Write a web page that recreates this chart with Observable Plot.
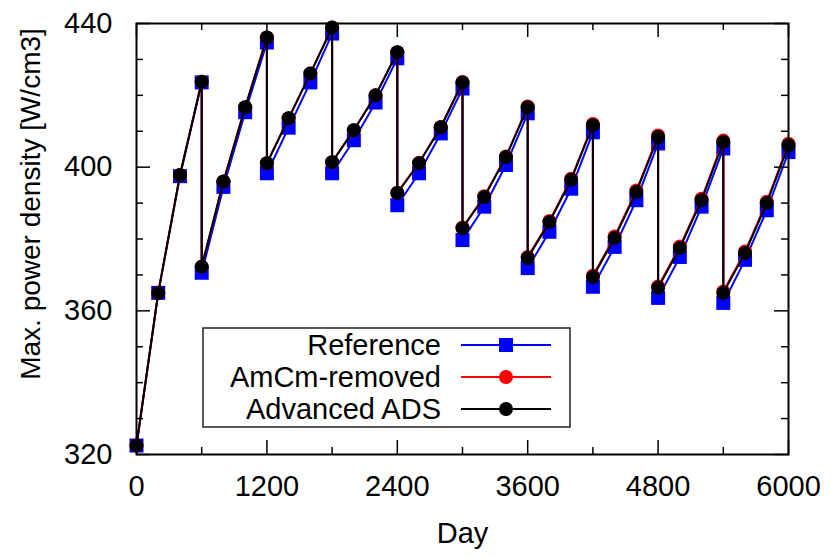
<!DOCTYPE html>
<html><head><meta charset="utf-8">
<script src="https://cdn.jsdelivr.net/npm/d3@7"></script>
<script src="https://cdn.jsdelivr.net/npm/@observablehq/plot@0.6"></script>
<style>body{margin:0;background:#fff} svg{display:block}</style>
</head><body><div id="chart"></div>
<script>
const days = [0,200,400,600,600,800,1000,1200,1200,1400,1600,1800,1800,2000,2200,2400,2400,2600,2800,3000,3000,3200,3400,3600,3600,3800,4000,4200,4200,4400,4600,4800,4800,5000,5200,5400,5400,5600,5800,6000];
const reference = [322.5,365,397.5,423.6,370.6,394.5,415.3,434.7,398.3,411,423.6,437.2,398.3,407.5,418,430.3,389.4,398.3,409.4,421.9,379.7,389,400.6,415,371.9,382,394,409.7,366.7,377.8,390.8,406.6,363.6,375,389,405.2,362.2,374.2,388,404.2];
const amcmRemoved = [322.5,365,397.8,423.8,372.3,396,416.7,436.1,401.1,413.6,426.1,438.9,401.4,410.3,420,432,392.9,401.2,411.2,423.7,383.2,391.9,403,416.9,375,385,396.8,412,369.8,380.7,393.5,408.8,366.8,377.9,391.2,407.4,365.4,376.5,390.4,406.5];
const advancedADS = [322.5,365,397.8,423.8,372.3,396,416.7,436.1,401.1,413.6,426.1,438.9,401.4,410.3,420,432,392.8,401.1,411.1,423.6,383,391.7,402.8,416.7,374.7,384.7,396.5,411.7,369.4,380.3,393.1,408.4,366.4,377.5,390.8,407,365,376.1,390,406.1];
const seriesNames = ["Reference","AmCm-removed","Advanced ADS"];
const seriesColors = ["#0000ff","#ff0000","#000000"];
const xTicks = [0,1200,2400,3600,4800,6000];
const xMinorTicks = [600,1800,3000,4200,5400];
const yTicks = [320,360,400,440];
const yMinorTicks = [330,340,350,370,380,390,410,420,430];
const xLabel = "Day";
const yLabel = "Max. power density [W/cm3]";

const W = 831, H = 557, mL = 136, mR = 43, mT = 23, mB = 103;
const innerW = W - mL - mR, innerH = H - mT - mB;
const rows = vals => days.map((d, i) => ({day: d, value: vals[i]}));
const font = "'Liberation Sans', Arial, Helvetica, sans-serif";
const fs = 29;

const seriesMarks = (vals, color, symbol, r) => [
  Plot.line(rows(vals), {x: "day", y: "value", stroke: color, strokeWidth: 2}),
  Plot.dot(rows(vals), {x: "day", y: "value", fill: color, stroke: "none", symbol, r})
];

const chart = Plot.plot({
  width: W, height: H,
  marginLeft: mL, marginRight: mR, marginTop: mT, marginBottom: mB,
  style: {fontFamily: font, color: "#000", background: "#fff"},
  x: {domain: [0, 6000]},
  y: {domain: [320, 440]},
  marks: [
    ...seriesMarks(reference, seriesColors[0], "square", 7.9),
    ...seriesMarks(amcmRemoved, seriesColors[1], "circle", 7),
    ...seriesMarks(advancedADS, seriesColors[2], "circle", 7),
    // inward ticks, all four sides
    Plot.tickX(xTicks, {x: d => d, insetTop: innerH - 14, stroke: "#000", strokeWidth: 1.5}),
    Plot.tickX(xTicks, {x: d => d, insetBottom: innerH - 14, stroke: "#000", strokeWidth: 1.5}),
    Plot.tickX(xMinorTicks, {x: d => d, insetTop: innerH - 7, stroke: "#000", strokeWidth: 1.5}),
    Plot.tickX(xMinorTicks, {x: d => d, insetBottom: innerH - 7, stroke: "#000", strokeWidth: 1.5}),
    Plot.tickY(yTicks, {y: d => d, insetRight: innerW - 14, stroke: "#000", strokeWidth: 1.5}),
    Plot.tickY(yTicks, {y: d => d, insetLeft: innerW - 14, stroke: "#000", strokeWidth: 1.5}),
    Plot.tickY(yMinorTicks, {y: d => d, insetRight: innerW - 7, stroke: "#000", strokeWidth: 1.5}),
    Plot.tickY(yMinorTicks, {y: d => d, insetLeft: innerW - 7, stroke: "#000", strokeWidth: 1.5}),
    Plot.frame({stroke: "#000", strokeWidth: 2}),
    Plot.axisX(xTicks, {anchor: "bottom", tickSize: 0, tickPadding: 21, fontSize: fs, tickFormat: d => String(d), label: null}),
    Plot.axisY(yTicks, {anchor: "left", tickSize: 0, tickPadding: 24, fontSize: fs, tickFormat: d => String(d), label: null}),
    Plot.text([xLabel], {frameAnchor: "bottom", dy: 79, fontSize: fs, lineAnchor: "middle", text: d => d})
  ]
});
document.getElementById("chart").append(chart);

const svg = d3.select(chart);
// y-axis title (rotated)
svg.append("text")
  .attr("transform", "translate(30,204) rotate(-90)")
  .attr("text-anchor", "middle").attr("dy", "0.35em")
  .attr("font-family", font).attr("font-size", 28).attr("fill", "#000")
  .text(yLabel);

// legend (gnuplot-style key box)
const lg = svg.append("g").attr("font-family", font).attr("font-size", fs);
lg.append("rect").attr("x", 203).attr("y", 328).attr("width", 367).attr("height", 99)
  .attr("fill", "#fff").attr("stroke", "#222").attr("stroke-width", 1.5);
seriesNames.forEach((name, i) => {
  const cy = 345 + i * 32;
  lg.append("text").attr("x", 441).attr("y", cy).attr("dy", "0.35em")
    .attr("text-anchor", "end").attr("fill", "#000").text(name);
  lg.append("line").attr("x1", 461).attr("x2", 551).attr("y1", cy).attr("y2", cy)
    .attr("stroke", seriesColors[i]).attr("stroke-width", 2);
  if (i === 0) {
    lg.append("rect").attr("x", 506 - 7).attr("y", cy - 7).attr("width", 14).attr("height", 14)
      .attr("fill", seriesColors[i]);
  } else {
    lg.append("circle").attr("cx", 506).attr("cy", cy).attr("r", 7).attr("fill", seriesColors[i]);
  }
});
</script></body></html>
